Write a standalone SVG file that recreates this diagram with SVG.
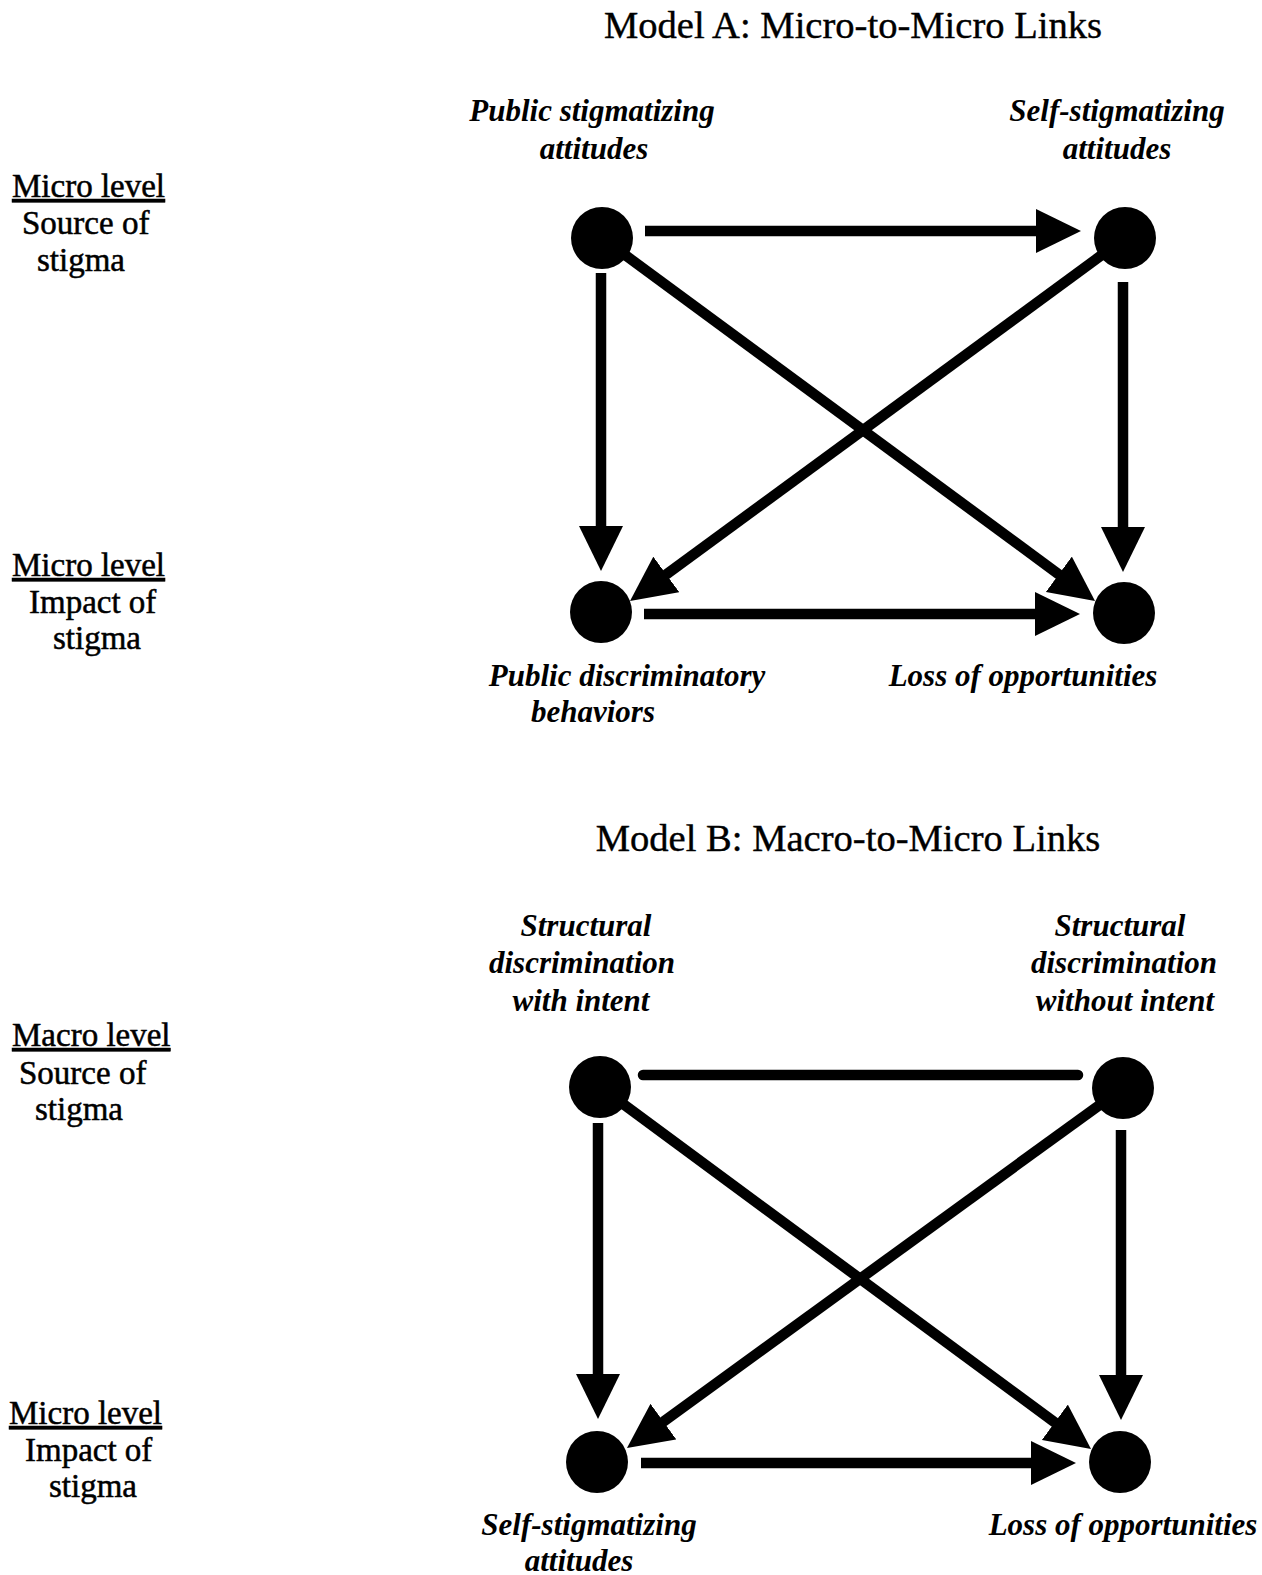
<svg xmlns="http://www.w3.org/2000/svg" width="1262" height="1575" viewBox="0 0 1262 1575">
<style>
.title{font-family:"Liberation Serif","Times New Roman",serif;font-size:38.6px;fill:#000;stroke:#000;stroke-width:0.4;text-anchor:middle}
.lvl{font-family:"Liberation Serif","Times New Roman",serif;font-size:33px;fill:#000;stroke:#000;stroke-width:0.5}
.ul{text-decoration:underline}
.lab{font-family:"Liberation Serif","Times New Roman",serif;font-size:31px;font-style:italic;font-weight:bold;fill:#000;text-anchor:middle}
.node{fill:#000}
.edge{stroke:#000;stroke-width:10.5;fill:none}
</style>
<defs>
<marker id="ah" markerUnits="userSpaceOnUse" viewBox="0 0 45 44" refX="1" refY="22" markerWidth="45" markerHeight="44" orient="auto">
<path d="M0,0 L45,22 L0,44 z" fill="#000"/>
</marker>
</defs>
<rect width="1262" height="1575" fill="#fff"/>

<text class="title" x="853" y="38">Model A: Micro-to-Micro Links</text>
<text class="title" x="848" y="851">Model B: Macro-to-Micro Links</text>

<g id="levels">
<text class="lvl ul" x="12" y="197">Micro level</text>
<text class="lvl" x="22" y="234">Source of</text>
<text class="lvl" x="37" y="271">stigma</text>
<text class="lvl ul" x="12" y="576">Micro level</text>
<text class="lvl" x="29" y="613">Impact of</text>
<text class="lvl" x="53" y="649">stigma</text>
<text class="lvl ul" x="12" y="1046">Macro level</text>
<text class="lvl" x="19" y="1084">Source of</text>
<text class="lvl" x="35" y="1120">stigma</text>
<text class="lvl ul" x="9" y="1424">Micro level</text>
<text class="lvl" x="25" y="1461">Impact of</text>
<text class="lvl" x="49" y="1497">stigma</text>
</g>

<g id="connectors">
<line class="edge" x1="645" y1="231" x2="1037" y2="231" marker-end="url(#ah)"/>
<line class="edge" x1="601" y1="273" x2="601" y2="527" marker-end="url(#ah)"/>
<line class="edge" x1="1123" y1="282" x2="1123" y2="528" marker-end="url(#ah)"/>
<line class="edge" x1="644" y1="614" x2="1036" y2="614" marker-end="url(#ah)"/>
<line class="edge" x1="624.5" y1="254.6" x2="1059.6" y2="574.9" marker-end="url(#ah)"/>
<line class="edge" x1="1102.4" y1="254.6" x2="665.5" y2="575" marker-end="url(#ah)"/>

<line class="edge" x1="643" y1="1075" x2="1078" y2="1075" stroke-linecap="round"/>
<line class="edge" x1="598" y1="1123" x2="598" y2="1375" marker-end="url(#ah)"/>
<line class="edge" x1="1121" y1="1130" x2="1121" y2="1376" marker-end="url(#ah)"/>
<line class="edge" x1="641" y1="1463" x2="1032" y2="1463" marker-end="url(#ah)"/>
<line class="edge" x1="622.5" y1="1103.6" x2="1055.6" y2="1422.9" marker-end="url(#ah)"/>
<line class="edge" x1="1100.3" y1="1104.4" x2="662.6" y2="1422.2" marker-end="url(#ah)"/>
</g>

<g id="A1"><circle class="node" cx="602" cy="238" r="31"/>
<text class="lab" x="592" y="121">Public stigmatizing</text>
<text class="lab" x="594" y="159">attitudes</text></g>
<g id="A2"><circle class="node" cx="1125" cy="238" r="31"/>
<text class="lab" x="1117" y="121">Self-stigmatizing</text>
<text class="lab" x="1117" y="159">attitudes</text></g>
<g id="A3"><circle class="node" cx="601" cy="612" r="31"/>
<text class="lab" x="627" y="686">Public discriminatory</text>
<text class="lab" x="593" y="722">behaviors</text></g>
<g id="A4"><circle class="node" cx="1124" cy="613" r="31"/>
<text class="lab" x="1023" y="686">Loss of opportunities</text></g>

<g id="B1"><circle class="node" cx="600" cy="1087" r="31"/>
<text class="lab" x="586" y="936">Structural</text>
<text class="lab" x="582" y="973">discrimination</text>
<text class="lab" x="581" y="1011">with intent</text></g>
<g id="B2"><circle class="node" cx="1123" cy="1088" r="31"/>
<text class="lab" x="1120" y="936">Structural</text>
<text class="lab" x="1124" y="973">discrimination</text>
<text class="lab" x="1125" y="1011">without intent</text></g>
<g id="B3"><circle class="node" cx="597" cy="1462" r="31"/>
<text class="lab" x="589" y="1535">Self-stigmatizing</text>
<text class="lab" x="579" y="1571">attitudes</text></g>
<g id="B4"><circle class="node" cx="1120" cy="1462" r="31"/>
<text class="lab" x="1123" y="1535">Loss of opportunities</text></g>
</svg>
